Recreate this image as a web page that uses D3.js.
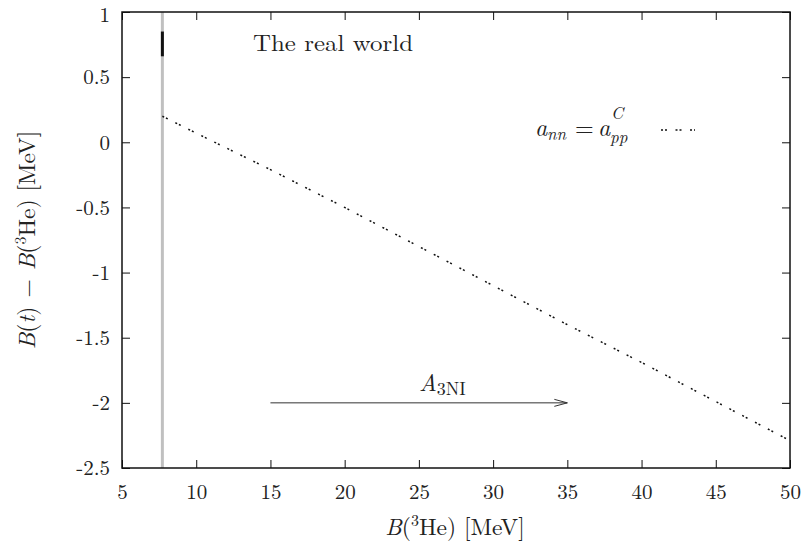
<!DOCTYPE html>
<html><head><meta charset="utf-8">
<script src="https://cdn.jsdelivr.net/npm/d3@7"></script>
<style>
html,body{margin:0;padding:0;background:#fff;}
text{font-family:"Latin Modern Roman","CMU Serif","Liberation Serif","DejaVu Serif",serif;fill:#222;}
</style></head>
<body>
<svg id="chart" width="806" height="546"></svg>
<script>
// ---- data ----
const xTicks = [5, 10, 15, 20, 25, 30, 35, 40, 45, 50];
const yTicks = [1, 0.5, 0, -0.5, -1, -1.5, -2, -2.5];
const yTickLabels = ["1", "0.5", "0", "-0.5", "-1", "-1.5", "-2", "-2.5"];
const B3He = [7.72, 10, 15, 20, 25, 30, 35, 40, 45, 50];
const deltaB = [0.20, 0.07, -0.21, -0.50, -0.80, -1.10, -1.40, -1.69, -1.99, -2.29];
const realWorldX = [7.72];
const realWorldBar = [0.66, 0.85];
const arrowX = [15, 35];
const arrowY = [-2, -2];

// ---- layout ----
const m = {left: 122, right: 790, top: 12, bottom: 468};
const svg = d3.select("#chart");
const x = d3.scaleLinear().domain([5, 50]).range([m.left, m.right]);
const y = d3.scaleLinear().domain([-2.5, 1]).range([m.bottom, m.top]);

svg.append("defs").append("clipPath").attr("id", "clip").append("rect")
  .attr("x", m.left).attr("y", m.top).attr("width", m.right - m.left).attr("height", m.bottom - m.top);

// gray real-world vertical line
svg.append("line")
  .attr("x1", x(realWorldX[0])).attr("x2", x(realWorldX[0]))
  .attr("y1", m.top).attr("y2", m.bottom)
  .attr("stroke", "#c0c0c0").attr("stroke-width", 3);

// black bar (real world value)
svg.append("line")
  .attr("x1", x(realWorldX[0])).attr("x2", x(realWorldX[0]))
  .attr("y1", y(realWorldBar[0])).attr("y2", y(realWorldBar[1]))
  .attr("stroke", "#111").attr("stroke-width", 3);

// dotted curve
const dash = "2,2,2,8.5";
svg.append("path")
  .datum(B3He.map((v, i) => [v, deltaB[i]]))
  .attr("clip-path", "url(#clip)")
  .attr("fill", "none").attr("stroke", "#111").attr("stroke-width", 1.5)
  .attr("stroke-dasharray", dash)
  .attr("d", d3.line().x(d => x(d[0])).y(d => y(d[1])));

// axes (ticks inward, on all four sides)
const tickLen = 8;
const axB = d3.axisBottom(x).tickValues(xTicks).tickSize(-tickLen).tickPadding(16).tickFormat(d3.format("d"));
const axT = d3.axisTop(x).tickValues(xTicks).tickSize(-tickLen).tickFormat("");
const axL = d3.axisLeft(y).tickValues(yTicks).tickSize(-tickLen).tickPadding(12)
  .tickFormat((d, i) => yTickLabels[i]);
const axR = d3.axisRight(y).tickValues(yTicks).tickSize(-tickLen).tickFormat("");

function style(g) {
  g.select(".domain").remove();
  g.selectAll(".tick line").attr("stroke", "#111").attr("stroke-width", 1);
  g.selectAll(".tick text").attr("font-size", 21).attr("fill", "#222")
    .attr("font-family", '"Latin Modern Roman","CMU Serif","Liberation Serif",serif');
}
svg.append("g").attr("transform", `translate(0,${m.bottom})`).call(axB).call(style);
svg.append("g").attr("transform", `translate(0,${m.top})`).call(axT).call(style);
const gL = svg.append("g").attr("transform", `translate(${m.left},0)`).call(axL).call(style);
gL.selectAll(".tick text").filter(d => d === 1).attr("dy", "0.46em");
svg.append("g").attr("transform", `translate(${m.right},0)`).call(axR).call(style);

// frame
svg.append("rect")
  .attr("x", m.left).attr("y", m.top).attr("width", m.right - m.left).attr("height", m.bottom - m.top)
  .attr("fill", "none").attr("stroke", "#111").attr("stroke-width", 1.5);

// "The real world"
svg.append("text").attr("x", 253).attr("y", 51).attr("font-size", 23)
  .attr("textLength", 160).attr("lengthAdjust", "spacingAndGlyphs")
  .text("The real world");

// legend: a_nn = a^C_pp
const legItems = [
  {t: "a", x: 535, y: 136, s: 24, it: true},
  {t: "nn", x: 547, y: 140, s: 17, it: true},
  {t: "=", x: 575, y: 136, s: 24, it: false},
  {t: "a", x: 598, y: 136, s: 24, it: true},
  {t: "C", x: 611, y: 119, s: 17, it: true},
  {t: "pp", x: 610, y: 143, s: 17, it: true}
];
svg.selectAll("text.leg").data(legItems).join("text").attr("class", "leg")
  .attr("x", d => d.x).attr("y", d => d.y).attr("font-size", d => d.s)
  .attr("font-style", d => d.it ? "italic" : "normal").text(d => d.t);
svg.append("line")
  .attr("x1", 661).attr("x2", 695).attr("y1", 130).attr("y2", 130)
  .attr("stroke", "#111").attr("stroke-width", 1.5).attr("stroke-dasharray", dash);

// arrow A_3NI
svg.append("line")
  .attr("x1", x(arrowX[0])).attr("x2", x(arrowX[1]))
  .attr("y1", y(arrowY[0])).attr("y2", y(arrowY[1]))
  .attr("stroke", "#333").attr("stroke-width", 1);
svg.append("path")
  .attr("d", `M${x(arrowX[1]) - 13},${y(arrowY[1]) - 3.5} L${x(arrowX[1])},${y(arrowY[1])} L${x(arrowX[1]) - 13},${y(arrowY[1]) + 3.5}`)
  .attr("fill", "none").attr("stroke", "#333").attr("stroke-width", 1);
const lab = svg.append("text").attr("x", 419).attr("y", 391).attr("font-size", 24);
lab.append("tspan").attr("font-style", "italic").text("A");
lab.append("tspan").attr("font-size", 18).attr("dy", 4).text("3NI");

// axis titles
const xt = svg.append("text").attr("x", 455).attr("y", 535).attr("text-anchor", "middle").attr("font-size", 23.5);
xt.append("tspan").attr("font-style", "italic").text("B");
xt.append("tspan").text("(");
xt.append("tspan").attr("font-size", 16).attr("dy", -9).text("3");
xt.append("tspan").attr("dy", 9).text("He) [MeV]");

const yt = svg.append("text").attr("transform", "translate(35,240) rotate(-90)")
  .attr("text-anchor", "middle").attr("font-size", 23.5);
yt.append("tspan").attr("font-style", "italic").text("B");
yt.append("tspan").text("(");
yt.append("tspan").attr("font-style", "italic").text("t");
yt.append("tspan").text(")");
yt.append("tspan").attr("dx", 9).text("−");
yt.append("tspan").attr("dx", 9).attr("font-style", "italic").text("B");
yt.append("tspan").text("(");
yt.append("tspan").attr("font-size", 16).attr("dy", -9).text("3");
yt.append("tspan").attr("dy", 9).text("He) [MeV]");
</script>
</body></html>
